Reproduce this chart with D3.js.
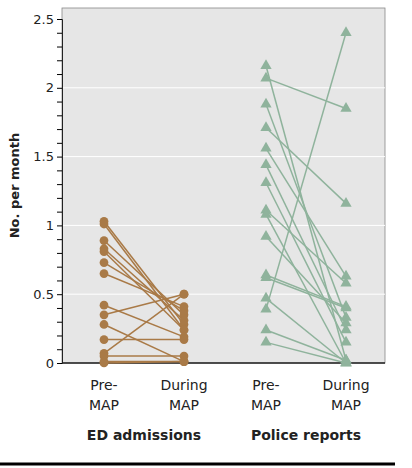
<!DOCTYPE html><html><head><meta charset="utf-8">
<script src="https://cdn.jsdelivr.net/npm/d3@7"></script>
<style>body{margin:0;background:#fff}text{font-family:"DejaVu Sans",sans-serif}</style></head><body>
<svg id="c" width="412" height="468"></svg>
<script>
const yTicks=[0,0.5,1,1.5,2,2.5];
const periods=["Pre-MAP","During MAP"];
const groups=["ED admissions","Police reports"];
const edPre=[1.03,1.01,0.89,0.83,0.81,0.73,0.65,0.42,0.35,0.28,0.17,0.07,0.05,0.01,0.00];
const edDuring=[0.28,0.24,0.35,0.31,0.24,0.38,0.41,0.19,0.50,0.01,0.17,0.50,0.05,0.01,0.01];
const polPre=[2.16,2.07,1.88,1.71,1.56,1.44,1.31,1.11,1.08,0.92,0.64,0.62,0.47,0.39,0.24,0.15];
const polDuring=[0.02,1.85,0.33,1.16,0.63,0.24,0.15,0.58,0.00,0.29,0.41,0.40,0.00,2.40,0.02,0.00];
const svg=d3.select("#c");
const L=62,R=385,T=8,B=363;
const y=d3.scaleLinear().domain([0,2.5]).range([B,19]);
const x=d3.scaleOrdinal().domain(["ED|0","ED|1","P|0","P|1"]).range([104,184,266,346]);
svg.append("rect").attr("x",L).attr("y",T).attr("width",R-L).attr("height",B-T).attr("fill","#e6e6e6").attr("stroke","#888").attr("stroke-width",0.8);
svg.append("g").selectAll("line").data(yTicks.filter(d=>d>0&&d<2.5)).join("line")
 .attr("x1",L).attr("x2",R).attr("y1",d=>y(d)).attr("y2",d=>y(d)).attr("stroke","#fff").attr("stroke-width",1);
const ax=svg.append("g").attr("transform",`translate(${L},0)`).call(d3.axisLeft(y).tickValues(d3.range(0,25.5,1).map(d=>d/10)).tickSize(5).tickFormat(d=>yTicks.includes(+d.toFixed(2))?d3.format("")(+d.toFixed(2)):""));
ax.select(".domain").attr("stroke","#222");
ax.selectAll("text").attr("font-size",13).attr("fill","#222");
svg.append("line").attr("x1",L).attr("x2",R).attr("y1",B).attr("y2",B).attr("stroke","#222").attr("stroke-width",1.5);
function draw(pre,dur,k,col,shape){
 const g=svg.append("g");
 pre.forEach((v,i)=>g.append("line").attr("x1",x(k+"|0")).attr("y1",y(v)).attr("x2",x(k+"|1")).attr("y2",y(dur[i])).attr("stroke",col).attr("stroke-width",1.5));
 const pts=pre.map(v=>[0,v]).concat(dur.map(v=>[1,v]));
 const sym=d3.symbol().type(shape).size(shape===d3.symbolCircle?60:55);
 g.selectAll("path").data(pts).join("path").attr("d",sym).attr("fill",col)
  .attr("transform",d=>`translate(${x(k+"|"+d[0])},${y(d[1])})`);
}
draw(edPre,edDuring,"ED","#a97a47",d3.symbolCircle);
draw(polPre,polDuring,"P","#8fb39c",d3.symbolTriangle);
const keys=["ED|0","ED|1","P|0","P|1"];
keys.forEach((k,i)=>{const p=periods[i%2].split(/(?<=-)|\s/);
 const t=svg.append("text").attr("x",x(k)).attr("text-anchor","middle").attr("font-size",14).attr("fill","#222");
 t.append("tspan").attr("x",x(k)).attr("y",390).text(p[0]);
 t.append("tspan").attr("x",x(k)).attr("y",410).text(p[1]);});
groups.forEach((g,i)=>svg.append("text").attr("x",(x(keys[i*2])+x(keys[i*2+1]))/2).attr("y",440).attr("text-anchor","middle").attr("font-size",14).attr("font-weight","bold").attr("fill","#222").text(g));
svg.append("text").attr("transform",`translate(19,${(T+B)/2}) rotate(-90)`).attr("text-anchor","middle").attr("font-size",13).attr("font-weight","bold").attr("fill","#222").text("No. per month");
svg.append("line").attr("x1",0).attr("x2",395).attr("y1",464).attr("y2",464).attr("stroke","#000").attr("stroke-width",3);
</script></body></html>
